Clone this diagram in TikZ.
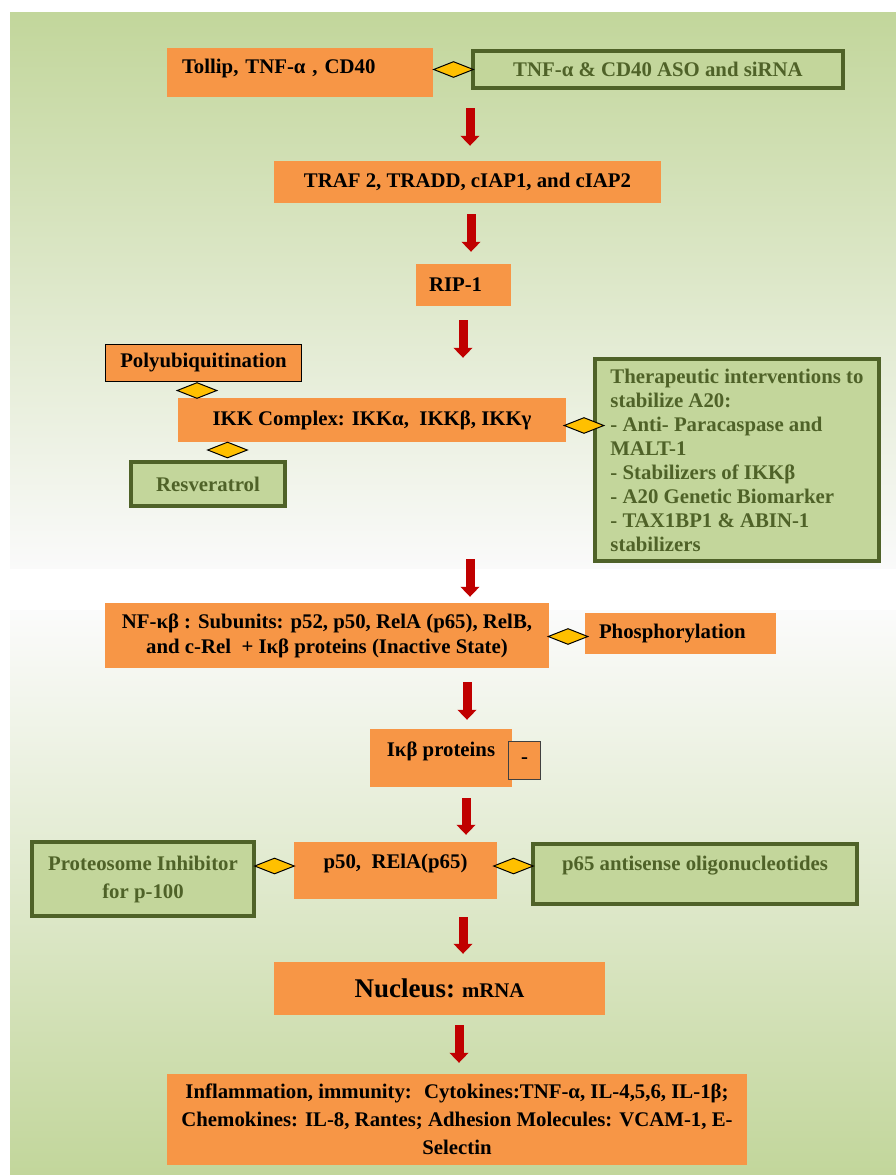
\documentclass[tikz,border=0pt]{standalone}
\usepackage{fontspec}
\setmainfont{Liberation Serif}
\usetikzlibrary{arrows.meta,shapes.geometric}

\definecolor{boxorange}{HTML}{F79646}
\definecolor{boxgreen}{HTML}{C3D69B}
\definecolor{darkolive}{HTML}{4F6228}
\definecolor{linkgold}{HTML}{FFC000}
\definecolor{arrowred}{HTML}{C00000}
\definecolor{bggreen}{HTML}{C2D69B}

\newcommand{\boxfont}{\fontsize{20.8pt}{24pt}\selectfont\bfseries}

\begin{document}
\begin{tikzpicture}[x=1pt, y=-1pt,
    orangebox/.style={fill=boxorange, inner sep=0pt, font=\boxfont, align=center},
    greenbox/.style={fill=boxgreen, draw=darkolive, line width=3.8pt, text=darkolive,
        inner sep=0pt, font=\boxfont, align=center},
    link/.style={diamond, draw=black, fill=linkgold, line width=1pt,
        minimum width=40pt, minimum height=16pt, inner sep=0pt},
    flow/.style={draw=arrowred, line width=9pt, -{Triangle[width=18.5pt,length=10pt]}}]

    \useasboundingbox (0,0) rectangle (896,1175);

    % Fundo: dois paineis em degrade
    \shade[top color=bggreen, bottom color=white!96!gray] (10,12) rectangle (896,568);
    \shade[top color=white!97!gray, bottom color=bggreen] (10,610) rectangle (896,1175);

    % Receptores e ASO
    \node[orangebox, minimum width=266pt, minimum height=49pt, text width=236pt, align=left,
        text depth=12.5pt] (tollip) at (300,72.5) {Tollip, TNF-α , CD40};
    \node[greenbox, minimum width=370pt, minimum height=37pt]
        (aso) at (658,69.5) {TNF-α \& CD40 ASO and siRNA};
    \node[link] (d1) at (453.5,69.5) {};

    % Adaptadores
    \node[orangebox, minimum width=387pt, minimum height=42pt]
        (traf) at (467.5,182) {TRAF 2, TRADD, cIAP1, and cIAP2};
    \node[orangebox, minimum width=95pt, minimum height=42pt, text width=69pt, align=left]
        (rip) at (463.5,285) {RIP-1};

    % Complexo IKK e intervencoes
    \node[orangebox, draw=black, line width=1.3pt, minimum width=196pt, minimum height=37pt]
        (polyub) at (203.5,363) {Polyubiquitination};
    \node[orangebox, minimum width=388pt, minimum height=44pt]
        (ikk) at (372,420) {IKK Complex: IKKα,~ IKKβ, IKKγ};
    \node[greenbox, minimum width=154pt, minimum height=44pt]
        (resv) at (208,484) {Resveratrol};
    \node[greenbox, minimum width=284pt, minimum height=202pt, align=left]
        (thera) at (737,460) {Therapeutic interventions to\\ stabilize A20:\\
        - Anti- Paracaspase and\\ MALT-1\\ - Stabilizers of IKKβ\\
        - A20 Genetic Biomarker\\ - TAX1BP1 \& ABIN-1\\ stabilizers};
    \node[link] (d2) at (197,390.5) {};
    \node[link] (d3) at (584,425.5) {};
    \node[link] (d4) at (227.5,450) {};

    % NF-kB inativo
    \node[orangebox, minimum width=444pt, minimum height=65pt]
        (nfkb) at (327,635.5) {NF-κβ : Subunits: p52, p50, RelA (p65), RelB,\\[1pt]
        and c-Rel~ + Iκβ proteins (Inactive State)};
    \node[orangebox, minimum width=191pt, minimum height=41pt, text width=163pt, align=left]
        (phos) at (680.5,633.5) {Phosphorylation};
    \node[link] (d5) at (568,636.5) {};

    % Degradacao de IkB
    \node[orangebox, minimum width=142pt, minimum height=58pt, text depth=18.5pt]
        (ikb) at (441,758) {Iκβ proteins};
    \node[orangebox, draw=black!75, line width=1.5pt, minimum width=32pt, minimum height=38pt]
        (minus) at (524.5,760.5) {-};

    % Dimero ativo
    \node[orangebox, minimum width=203pt, minimum height=57pt, text depth=18.5pt]
        (p50) at (395.5,870.5) {p50,~ RElA(p65)};
    \node[greenbox, minimum width=222pt, minimum height=74pt]
        (prot) at (143,879) {Proteosome Inhibitor\\[4pt] for p-100};
    \node[greenbox, minimum width=324pt, minimum height=60pt, text depth=20.5pt]
        (asp65) at (695,874) {p65 antisense oligonucleotides};
    \node[link] (d6) at (274.5,866) {};
    \node[link] (d7) at (513.5,866) {};

    % Nucleo e genes alvo
    \node[orangebox, minimum width=331pt, minimum height=53pt]
        (nucleus) at (439.5,988.5) {{\fontsize{27pt}{30pt}\selectfont Nucleus:} mRNA};
    \node[orangebox, minimum width=580pt, minimum height=91pt]
        (result) at (457,1119.5) {Inflammation, immunity:~ Cytokines:TNF-α, IL-4,5,6, IL-1β;\\[4pt]
        Chemokines: IL-8, Rantes; Adhesion Molecules: VCAM-1, E-\\[4pt] Selectin};

    % Setas da via
    \draw[flow, shorten <=11pt, shorten >=15pt] (tollip.south -| 470,0) -- (traf.north -| 470,0);
    \draw[flow, shorten <=11pt, shorten >=12pt] (traf.south -| 471,0) -- (rip.north -| 471,0);
    \draw[flow, shorten <=14pt, shorten >=40pt] (rip.south -| 463,0) -- (ikk.north -| 463,0);
    \draw[flow, shorten <=117pt, shorten >=6pt] (ikk.south -| 470,0) -- (nfkb.north -| 470,0);
    \draw[flow, shorten <=14pt, shorten >=9pt] (nfkb.south -| 467,0) -- (ikb.north -| 467,0);
    \draw[flow, shorten <=11pt, shorten >=7pt] (ikb.south -| 466,0) -- (p50.north -| 466,0);
    \draw[flow, shorten <=18pt, shorten >=8pt] (p50.south -| 463,0) -- (nucleus.north -| 463,0);
    \draw[flow, shorten <=10pt, shorten >=11pt] (nucleus.south -| 459,0) -- (result.north -| 459,0);

\end{tikzpicture}
\end{document}
